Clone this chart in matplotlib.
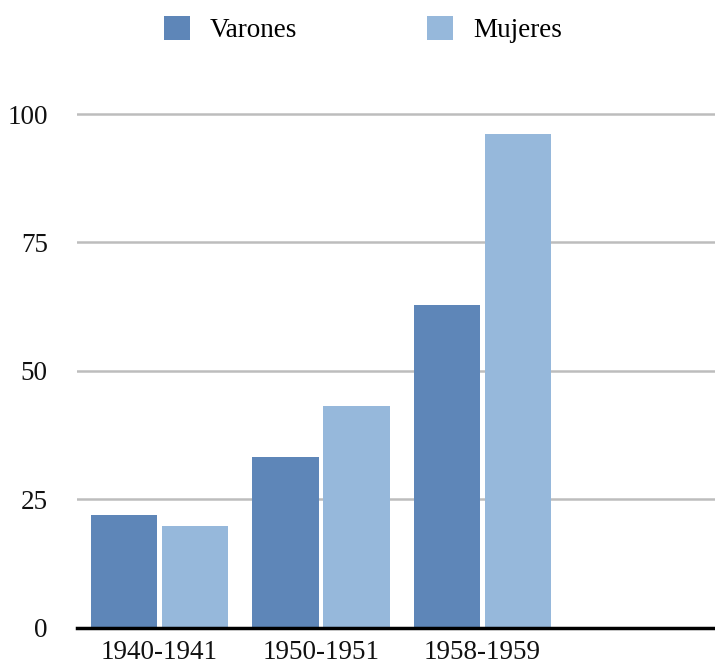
import matplotlib.pyplot as plt
from matplotlib.patches import Patch
import numpy as np

periods = ["1940-1941", "1950-1951", "1958-1959"]
varones = [22, 33.2, 62.8]
mujeres = [19.8, 43.1, 96.1]
series_names = ["Varones", "Mujeres"]
colors = ["#5E86B8", "#96B8DB"]

plt.rcParams["font.family"] = ["Liberation Serif", "DejaVu Serif"]
plt.rcParams["font.size"] = 19.5

W, H = 715, 664
fig = plt.figure(figsize=(W / 100, H / 100), dpi=100)

# axes: left edge at x=77px, zero line at y=627.5px, 5.135 px per unit
ymax = 105
px_per_unit = 5.135
bottom = (H - 627.5) / H
height = ymax * px_per_unit / H
left_px = 77
ax = fig.add_axes([left_px / W, bottom, 1 - left_px / W, height])

x = np.arange(len(periods))
width = 0.41
offset = 0.22
ax.bar(x - offset, varones, width, color=colors[0], zorder=3)
ax.bar(x + offset, mujeres, width, color=colors[1], zorder=3)

slot_px = 161.5
x0 = -(159.5 - left_px) / slot_px
ax.set_xlim(x0, x0 + (W - left_px) / slot_px)
ax.set_ylim(0, ymax)

ax.set_yticks([0, 25, 50, 75, 100])
ax.set_xticks(x)
ax.set_xticklabels(periods)
ax.tick_params(axis="both", length=0, colors="#111111")
ax.tick_params(axis="y", pad=21)
ax.tick_params(axis="x", pad=9)

for v in [25, 50, 75, 100]:
    ax.axhline(v, color="#BDBDBD", linewidth=1.8, zorder=1)

for s in ["top", "right", "left"]:
    ax.spines[s].set_visible(False)
ax.spines["bottom"].set_linewidth(2.5)
ax.spines["bottom"].set_color("black")
ax.spines["bottom"].set_zorder(4)

handles = [Patch(facecolor=c, edgecolor="none") for c in colors]
fig.legend(handles, series_names, loc="center", bbox_to_anchor=(0.508, 0.955),
           ncol=2, frameon=False, handlelength=0.95, handleheight=0.95,
           handletextpad=0.75, columnspacing=4.8, borderpad=0)

fig.savefig("out.png", dpi=100)
